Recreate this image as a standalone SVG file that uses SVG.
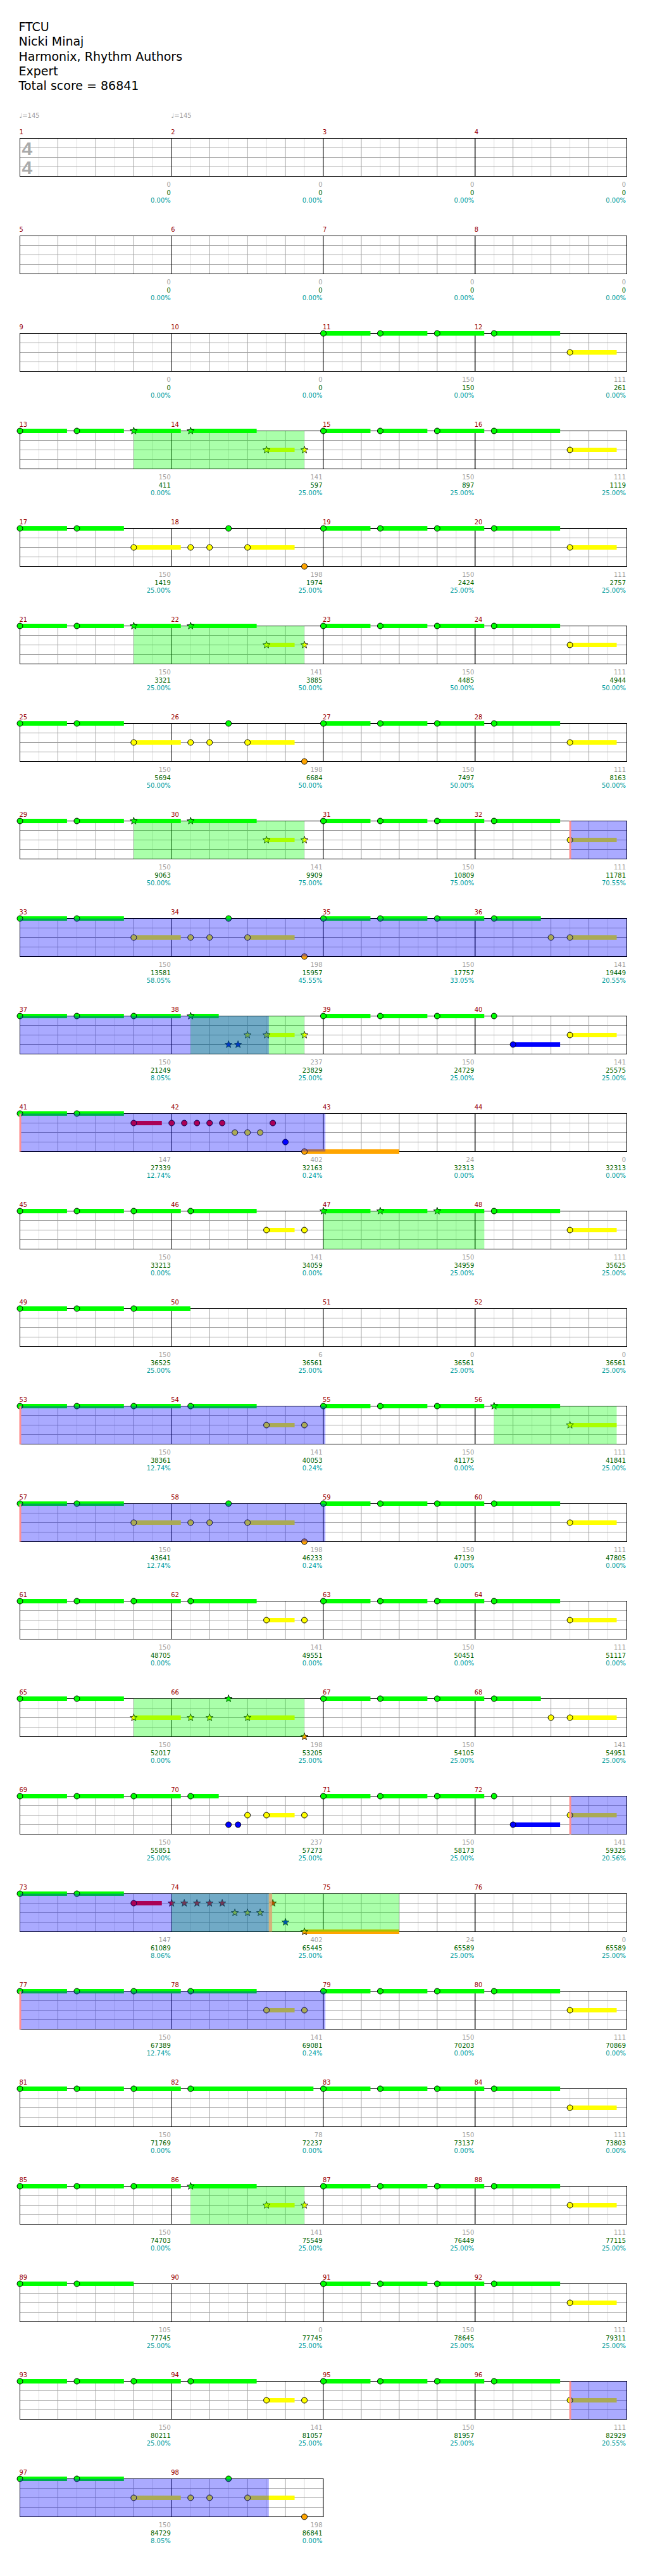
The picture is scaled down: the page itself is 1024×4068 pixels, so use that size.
<svg xmlns="http://www.w3.org/2000/svg" width="1024" height="4068" viewBox="0 0 1024 4068">
<style>
text{font-family:"DejaVu Sans","Liberation Sans",sans-serif}
.hd{font-size:19px;fill:#000}
.tp{font-size:10px;fill:#a0a0a0}
.ts{font-family:"Liberation Sans",sans-serif;font-weight:bold;font-size:30px;fill:#aaa}
.mn{font-size:10px;fill:#990000}
.s1,.s2,.s3{font-size:10px;text-anchor:end}
.s1{fill:#a0a0a0}.s2{fill:#006400}.s3{fill:#009c9c}
.lt{stroke:#dcdcdc;stroke-width:1;fill:none}
.bt{stroke:#a0a0a0;stroke-width:1;fill:none}
.ms{stroke:#000;stroke-width:1;fill:none}
.box{fill:none;stroke:#000;stroke-width:1}
.G{fill:#00ff00}.R{fill:#ff0000}.Y{fill:#ffff00}.B{fill:#0000ff}.O{fill:#ffa500}
.nt{stroke:#000;stroke-width:1}
.sn{stroke:#000;stroke-width:0.8}
.ovg{fill:#00ff00;fill-opacity:0.333}
.ovb{fill:#0000ff;fill-opacity:0.333}
.act{fill:#ff9090}
</style>
<defs>
<circle id="c" r="4.5"/>
<path id="st" d="M0,-6L1.47,-2.02L5.71,-1.85L2.38,0.77L3.53,4.85L0,2.5L-3.53,4.85L-2.38,0.77L-5.71,-1.85L-1.47,-2.02Z"/>
<g id="half">
<path class="lt" d="M30 0V60M90 0V60M150 0V60M210 0V60M270 0V60M330 0V60M390 0V60M450 0V60"/>
<path class="bt" d="M60 0V60M120 0V60M180 0V60M300 0V60M360 0V60M420 0V60M0 15H480M0 30H480M0 45H480"/>
<path class="ms" d="M240 0V60"/>
</g>
<g id="staff"><use href="#half"/><use href="#half" x="480"/><path class="ms" d="M480 0V60M720 0V60"/><rect class="box" width="960" height="60"/></g>
<g id="staff2"><use href="#half"/><rect class="box" width="480" height="60"/></g>
<g id="barsA">
<rect class="G" x="0" y="-3.5" width="74.5" height="7"/><rect class="G" x="90" y="-3.5" width="74.5" height="7"/><rect class="G" x="180" y="-3.5" width="74.5" height="7"/><rect class="G" x="270" y="-3.5" width="104.5" height="7"/><rect class="Y" x="390" y="26.5" width="74" height="7"/>
</g>
<g id="barsD">
<rect class="G" x="0" y="-3.5" width="74.5" height="7"/><rect class="G" x="90" y="-3.5" width="74.5" height="7"/><rect class="G" x="180" y="-3.5" width="74.5" height="7"/><rect class="G" x="270" y="-3.5" width="104.5" height="7"/><rect class="Y" x="390" y="26.5" width="44.5" height="7"/>
</g>
<g id="barsB">
<rect class="G" x="0" y="-3.5" width="74.5" height="7"/><rect class="G" x="90" y="-3.5" width="74.5" height="7"/><rect class="Y" x="180" y="26.5" width="74.5" height="7"/><rect class="Y" x="360" y="26.5" width="74.5" height="7"/>
</g>
<g id="barsE">
<rect class="G" x="0" y="-3.5" width="74.5" height="7"/><rect class="G" x="90" y="-3.5" width="74.5" height="7"/><rect class="G" x="180" y="-3.5" width="74.5" height="7"/><rect class="G" x="270" y="-3.5" width="44.5" height="7"/><rect class="Y" x="390" y="26.5" width="44.5" height="7"/>
</g>
<g id="barsG">
<rect class="G" x="0" y="-3.5" width="74.5" height="7"/><rect class="G" x="90" y="-3.5" width="74.5" height="7"/><rect class="R" x="180" y="11.5" width="44.5" height="7"/><rect class="O" x="450" y="56.5" width="150" height="7"/>
</g>
<g id="pA"><use href="#barsA"/>
<use href="#c" class="nt G" x="0" y="0"/><use href="#c" class="nt G" x="90" y="0"/><use href="#c" class="nt G" x="180" y="0"/><use href="#c" class="nt G" x="270" y="0"/><use href="#c" class="nt Y" x="390" y="30"/>
</g>
<g id="pA2">
<rect class="G" x="0" y="-3.5" width="74.5" height="7"/><rect class="G" x="90" y="-3.5" width="74.5" height="7"/><rect class="G" x="180" y="-3.5" width="74.5" height="7"/><rect class="G" x="270" y="-3.5" width="74" height="7"/><rect class="Y" x="390" y="26.5" width="74" height="7"/>
<use href="#c" class="nt G" x="0" y="0"/><use href="#c" class="nt G" x="90" y="0"/><use href="#c" class="nt G" x="180" y="0"/><use href="#c" class="nt G" x="270" y="0"/><use href="#c" class="nt Y" x="360" y="30"/><use href="#c" class="nt Y" x="390" y="30"/>
</g>
<g id="pB"><use href="#barsB"/>
<use href="#c" class="nt G" x="0" y="0"/><use href="#c" class="nt G" x="90" y="0"/><use href="#c" class="nt Y" x="180" y="30"/><use href="#c" class="nt Y" x="270" y="30"/><use href="#c" class="nt Y" x="300" y="30"/><use href="#c" class="nt G" x="330" y="0"/><use href="#c" class="nt Y" x="360" y="30"/><use href="#c" class="nt O" x="450" y="60"/>
</g>
<g id="pK"><use href="#barsB"/>
<use href="#c" class="nt G" x="0" y="0"/><use href="#c" class="nt G" x="90" y="0"/><use href="#st" class="sn Y" x="180" y="30"/><use href="#st" class="sn Y" x="270" y="30"/><use href="#st" class="sn Y" x="300" y="30"/><use href="#st" class="sn G" x="330" y="0"/><use href="#st" class="sn Y" x="360" y="30"/><use href="#st" class="sn O" x="450" y="60"/>
</g>
<g id="pD"><use href="#barsD"/>
<use href="#c" class="nt G" x="0" y="0"/><use href="#c" class="nt G" x="90" y="0"/><use href="#c" class="nt G" x="180" y="0"/><use href="#c" class="nt G" x="270" y="0"/><use href="#c" class="nt Y" x="390" y="30"/><use href="#c" class="nt Y" x="450" y="30"/>
</g>
<g id="pC"><use href="#barsD"/>
<use href="#c" class="nt G" x="0" y="0"/><use href="#c" class="nt G" x="90" y="0"/><use href="#st" class="sn G" x="180" y="0"/><use href="#st" class="sn G" x="270" y="0"/><use href="#st" class="sn Y" x="390" y="30"/><use href="#st" class="sn Y" x="450" y="30"/>
</g>
<g id="pM"><use href="#barsD"/>
<use href="#c" class="nt G" x="0" y="0"/><use href="#c" class="nt G" x="90" y="0"/><use href="#c" class="nt G" x="180" y="0"/><use href="#st" class="sn G" x="270" y="0"/><use href="#st" class="sn Y" x="390" y="30"/><use href="#st" class="sn Y" x="450" y="30"/>
</g>
<g id="pE"><use href="#barsE"/>
<use href="#c" class="nt G" x="0" y="0"/><use href="#c" class="nt G" x="90" y="0"/><use href="#c" class="nt G" x="180" y="0"/><use href="#st" class="sn G" x="270" y="0"/><use href="#st" class="sn B" x="330" y="45"/><use href="#st" class="sn B" x="345" y="45"/><use href="#st" class="sn Y" x="360" y="30"/><use href="#st" class="sn Y" x="390" y="30"/><use href="#st" class="sn Y" x="450" y="30"/>
</g>
<g id="pE2"><use href="#barsE"/>
<use href="#c" class="nt G" x="0" y="0"/><use href="#c" class="nt G" x="90" y="0"/><use href="#c" class="nt G" x="180" y="0"/><use href="#c" class="nt G" x="270" y="0"/><use href="#c" class="nt B" x="330" y="45"/><use href="#c" class="nt B" x="345" y="45"/><use href="#c" class="nt Y" x="360" y="30"/><use href="#c" class="nt Y" x="390" y="30"/><use href="#c" class="nt Y" x="450" y="30"/>
</g>
<g id="pF">
<rect class="G" x="0" y="-3.5" width="74.5" height="7"/><rect class="G" x="90" y="-3.5" width="74.5" height="7"/><rect class="G" x="180" y="-3.5" width="74.5" height="7"/><rect class="B" x="300" y="41.5" width="74.5" height="7"/><rect class="Y" x="390" y="26.5" width="74" height="7"/>
<use href="#c" class="nt G" x="0" y="0"/><use href="#c" class="nt G" x="90" y="0"/><use href="#c" class="nt G" x="180" y="0"/><use href="#c" class="nt G" x="270" y="0"/><use href="#c" class="nt B" x="300" y="45"/><use href="#c" class="nt Y" x="390" y="30"/>
</g>
<g id="pG"><use href="#barsG"/>
<use href="#c" class="nt G" x="0" y="0"/><use href="#c" class="nt G" x="90" y="0"/><use href="#c" class="nt R" x="180" y="15"/><use href="#c" class="nt R" x="240" y="15"/><use href="#c" class="nt R" x="260" y="15"/><use href="#c" class="nt R" x="280" y="15"/><use href="#c" class="nt R" x="300" y="15"/><use href="#c" class="nt R" x="320" y="15"/><use href="#c" class="nt Y" x="340" y="30"/><use href="#c" class="nt Y" x="360" y="30"/><use href="#c" class="nt Y" x="380" y="30"/><use href="#c" class="nt R" x="400" y="15"/><use href="#c" class="nt B" x="420" y="45"/><use href="#c" class="nt O" x="450" y="60"/>
</g>
<g id="pG2"><use href="#barsG"/>
<use href="#c" class="nt G" x="0" y="0"/><use href="#c" class="nt G" x="90" y="0"/><use href="#c" class="nt R" x="180" y="15"/><use href="#st" class="sn R" x="240" y="15"/><use href="#st" class="sn R" x="260" y="15"/><use href="#st" class="sn R" x="280" y="15"/><use href="#st" class="sn R" x="300" y="15"/><use href="#st" class="sn R" x="320" y="15"/><use href="#st" class="sn Y" x="340" y="30"/><use href="#st" class="sn Y" x="360" y="30"/><use href="#st" class="sn Y" x="380" y="30"/><use href="#st" class="sn R" x="400" y="15"/><use href="#st" class="sn B" x="420" y="45"/><use href="#st" class="sn O" x="450" y="60"/>
</g>
<g id="pH">
<rect class="G" x="0" y="-3.5" width="74.5" height="7"/><rect class="G" x="90" y="-3.5" width="74.5" height="7"/><rect class="G" x="180" y="-3.5" width="89.6" height="7"/>
<use href="#c" class="nt G" x="0" y="0"/><use href="#c" class="nt G" x="90" y="0"/><use href="#c" class="nt G" x="180" y="0"/>
</g>
<g id="pI"><use href="#barsA"/>
<use href="#c" class="nt G" x="0" y="0"/><use href="#c" class="nt G" x="90" y="0"/><use href="#c" class="nt G" x="180" y="0"/><use href="#st" class="sn G" x="270" y="0"/><use href="#st" class="sn Y" x="390" y="30"/>
</g>
<g id="pJ"><use href="#barsA"/>
<use href="#st" class="sn G" x="0" y="0"/><use href="#st" class="sn G" x="90" y="0"/><use href="#st" class="sn G" x="180" y="0"/><use href="#c" class="nt G" x="270" y="0"/><use href="#c" class="nt Y" x="390" y="30"/>
</g>
<g id="pL">
<rect class="G" x="0" y="-3.5" width="74.5" height="7"/><rect class="G" x="90" y="-3.5" width="74.5" height="7"/><rect class="G" x="180" y="-3.5" width="74.5" height="7"/><rect class="G" x="270" y="-3.5" width="194.3" height="7"/>
<use href="#c" class="nt G" x="0" y="0"/><use href="#c" class="nt G" x="90" y="0"/><use href="#c" class="nt G" x="180" y="0"/><use href="#c" class="nt G" x="270" y="0"/>
</g>
<g id="pN">
<rect class="G" x="0" y="-3.5" width="74.5" height="7"/><rect class="G" x="90" y="-3.5" width="90" height="7"/>
<use href="#c" class="nt G" x="0" y="0"/><use href="#c" class="nt G" x="90" y="0"/>
</g>
</defs>
<rect width="1024" height="4068" fill="#fff"/>
<g id="header">
<text class="hd" x="29.5" y="49">FTCU</text>
<text class="hd" x="29.5" y="72">Nicki Minaj</text>
<text class="hd" x="29.5" y="95.5">Harmonix, Rhythm Authors</text>
<text class="hd" x="29.5" y="118.5">Expert</text>
<text class="hd" x="29.5" y="141.7">Total score = 86841</text>
<text class="tp" x="30.5" y="185.5">♩=145</text>
<text class="tp" x="270.5" y="185.5">♩=145</text>
</g>

<g id="row1" transform="translate(31.5,218.5) scale(0.99896,1)">
<use href="#staff"/>
<text class="ts" x="3" y="26.5">4</text><text class="ts" x="3" y="56.5">4</text>
<text class="mn" x="-1" y="-7">1</text><text class="mn" x="239" y="-7">2</text><text class="mn" x="479" y="-7">3</text><text class="mn" x="719" y="-7">4</text>
<text class="s1" x="238.5" y="76.5">0</text><text class="s2" x="238.5" y="89.5">0</text><text class="s3" x="238.5" y="102">0.00%</text>
<text class="s1" x="478.5" y="76.5">0</text><text class="s2" x="478.5" y="89.5">0</text><text class="s3" x="478.5" y="102">0.00%</text>
<text class="s1" x="718.5" y="76.5">0</text><text class="s2" x="718.5" y="89.5">0</text><text class="s3" x="718.5" y="102">0.00%</text>
<text class="s1" x="958.5" y="76.5">0</text><text class="s2" x="958.5" y="89.5">0</text><text class="s3" x="958.5" y="102">0.00%</text>
</g>

<g id="row2" transform="translate(31.5,372.5) scale(0.99896,1)">
<use href="#staff"/>
<text class="mn" x="-1" y="-7">5</text><text class="mn" x="239" y="-7">6</text><text class="mn" x="479" y="-7">7</text><text class="mn" x="719" y="-7">8</text>
<text class="s1" x="238.5" y="76.5">0</text><text class="s2" x="238.5" y="89.5">0</text><text class="s3" x="238.5" y="102">0.00%</text>
<text class="s1" x="478.5" y="76.5">0</text><text class="s2" x="478.5" y="89.5">0</text><text class="s3" x="478.5" y="102">0.00%</text>
<text class="s1" x="718.5" y="76.5">0</text><text class="s2" x="718.5" y="89.5">0</text><text class="s3" x="718.5" y="102">0.00%</text>
<text class="s1" x="958.5" y="76.5">0</text><text class="s2" x="958.5" y="89.5">0</text><text class="s3" x="958.5" y="102">0.00%</text>
</g>

<g id="row3" transform="translate(31.5,526.5) scale(0.99896,1)">
<use href="#staff"/>
<use href="#pA" x="480"/>
<text class="mn" x="-1" y="-7">9</text><text class="mn" x="239" y="-7">10</text><text class="mn" x="479" y="-7">11</text><text class="mn" x="719" y="-7">12</text>
<text class="s1" x="238.5" y="76.5">0</text><text class="s2" x="238.5" y="89.5">0</text><text class="s3" x="238.5" y="102">0.00%</text>
<text class="s1" x="478.5" y="76.5">0</text><text class="s2" x="478.5" y="89.5">0</text><text class="s3" x="478.5" y="102">0.00%</text>
<text class="s1" x="718.5" y="76.5">150</text><text class="s2" x="718.5" y="89.5">150</text><text class="s3" x="718.5" y="102">0.00%</text>
<text class="s1" x="958.5" y="76.5">111</text><text class="s2" x="958.5" y="89.5">261</text><text class="s3" x="958.5" y="102">0.00%</text>
</g>

<g id="row4" transform="translate(31.5,680.5) scale(0.99896,1)">
<use href="#staff"/>
<use href="#pC"/><use href="#pA" x="480"/>
<rect class="ovg" x="180" y="0" width="270" height="60"/>
<text class="mn" x="-1" y="-7">13</text><text class="mn" x="239" y="-7">14</text><text class="mn" x="479" y="-7">15</text><text class="mn" x="719" y="-7">16</text>
<text class="s1" x="238.5" y="76.5">150</text><text class="s2" x="238.5" y="89.5">411</text><text class="s3" x="238.5" y="102">0.00%</text>
<text class="s1" x="478.5" y="76.5">141</text><text class="s2" x="478.5" y="89.5">597</text><text class="s3" x="478.5" y="102">25.00%</text>
<text class="s1" x="718.5" y="76.5">150</text><text class="s2" x="718.5" y="89.5">897</text><text class="s3" x="718.5" y="102">25.00%</text>
<text class="s1" x="958.5" y="76.5">111</text><text class="s2" x="958.5" y="89.5">1119</text><text class="s3" x="958.5" y="102">25.00%</text>
</g>

<g id="row5" transform="translate(31.5,834.5) scale(0.99896,1)">
<use href="#staff"/>
<use href="#pB"/><use href="#pA" x="480"/>
<text class="mn" x="-1" y="-7">17</text><text class="mn" x="239" y="-7">18</text><text class="mn" x="479" y="-7">19</text><text class="mn" x="719" y="-7">20</text>
<text class="s1" x="238.5" y="76.5">150</text><text class="s2" x="238.5" y="89.5">1419</text><text class="s3" x="238.5" y="102">25.00%</text>
<text class="s1" x="478.5" y="76.5">198</text><text class="s2" x="478.5" y="89.5">1974</text><text class="s3" x="478.5" y="102">25.00%</text>
<text class="s1" x="718.5" y="76.5">150</text><text class="s2" x="718.5" y="89.5">2424</text><text class="s3" x="718.5" y="102">25.00%</text>
<text class="s1" x="958.5" y="76.5">111</text><text class="s2" x="958.5" y="89.5">2757</text><text class="s3" x="958.5" y="102">25.00%</text>
</g>

<g id="row6" transform="translate(31.5,988.5) scale(0.99896,1)">
<use href="#staff"/>
<use href="#pC"/><use href="#pA" x="480"/>
<rect class="ovg" x="180" y="0" width="270" height="60"/>
<text class="mn" x="-1" y="-7">21</text><text class="mn" x="239" y="-7">22</text><text class="mn" x="479" y="-7">23</text><text class="mn" x="719" y="-7">24</text>
<text class="s1" x="238.5" y="76.5">150</text><text class="s2" x="238.5" y="89.5">3321</text><text class="s3" x="238.5" y="102">25.00%</text>
<text class="s1" x="478.5" y="76.5">141</text><text class="s2" x="478.5" y="89.5">3885</text><text class="s3" x="478.5" y="102">50.00%</text>
<text class="s1" x="718.5" y="76.5">150</text><text class="s2" x="718.5" y="89.5">4485</text><text class="s3" x="718.5" y="102">50.00%</text>
<text class="s1" x="958.5" y="76.5">111</text><text class="s2" x="958.5" y="89.5">4944</text><text class="s3" x="958.5" y="102">50.00%</text>
</g>

<g id="row7" transform="translate(31.5,1142.5) scale(0.99896,1)">
<use href="#staff"/>
<use href="#pB"/><use href="#pA" x="480"/>
<text class="mn" x="-1" y="-7">25</text><text class="mn" x="239" y="-7">26</text><text class="mn" x="479" y="-7">27</text><text class="mn" x="719" y="-7">28</text>
<text class="s1" x="238.5" y="76.5">150</text><text class="s2" x="238.5" y="89.5">5694</text><text class="s3" x="238.5" y="102">50.00%</text>
<text class="s1" x="478.5" y="76.5">198</text><text class="s2" x="478.5" y="89.5">6684</text><text class="s3" x="478.5" y="102">50.00%</text>
<text class="s1" x="718.5" y="76.5">150</text><text class="s2" x="718.5" y="89.5">7497</text><text class="s3" x="718.5" y="102">50.00%</text>
<text class="s1" x="958.5" y="76.5">111</text><text class="s2" x="958.5" y="89.5">8163</text><text class="s3" x="958.5" y="102">50.00%</text>
</g>

<g id="row8" transform="translate(31.5,1296.5) scale(0.99896,1)">
<use href="#staff"/>
<use href="#pC"/><use href="#pA" x="480"/>
<rect class="ovg" x="180" y="0" width="270" height="60"/>
<rect class="ovb" x="870" y="0" width="90" height="60"/>
<rect class="act" x="869" y="0" width="3" height="60"/>
<text class="mn" x="-1" y="-7">29</text><text class="mn" x="239" y="-7">30</text><text class="mn" x="479" y="-7">31</text><text class="mn" x="719" y="-7">32</text>
<text class="s1" x="238.5" y="76.5">150</text><text class="s2" x="238.5" y="89.5">9063</text><text class="s3" x="238.5" y="102">50.00%</text>
<text class="s1" x="478.5" y="76.5">141</text><text class="s2" x="478.5" y="89.5">9909</text><text class="s3" x="478.5" y="102">75.00%</text>
<text class="s1" x="718.5" y="76.5">150</text><text class="s2" x="718.5" y="89.5">10809</text><text class="s3" x="718.5" y="102">75.00%</text>
<text class="s1" x="958.5" y="76.5">111</text><text class="s2" x="958.5" y="89.5">11781</text><text class="s3" x="958.5" y="102">70.55%</text>
</g>

<g id="row9" transform="translate(31.5,1450.5) scale(0.99896,1)">
<use href="#staff"/>
<use href="#pB"/><use href="#pA2" x="480"/>
<rect class="ovb" x="0" y="0" width="960" height="60"/>
<text class="mn" x="-1" y="-7">33</text><text class="mn" x="239" y="-7">34</text><text class="mn" x="479" y="-7">35</text><text class="mn" x="719" y="-7">36</text>
<text class="s1" x="238.5" y="76.5">150</text><text class="s2" x="238.5" y="89.5">13581</text><text class="s3" x="238.5" y="102">58.05%</text>
<text class="s1" x="478.5" y="76.5">198</text><text class="s2" x="478.5" y="89.5">15957</text><text class="s3" x="478.5" y="102">45.55%</text>
<text class="s1" x="718.5" y="76.5">150</text><text class="s2" x="718.5" y="89.5">17757</text><text class="s3" x="718.5" y="102">33.05%</text>
<text class="s1" x="958.5" y="76.5">141</text><text class="s2" x="958.5" y="89.5">19449</text><text class="s3" x="958.5" y="102">20.55%</text>
</g>

<g id="row10" transform="translate(31.5,1604.5) scale(0.99896,1)">
<use href="#staff"/>
<use href="#pE"/><use href="#pF" x="480"/>
<rect class="ovg" x="270" y="0" width="180" height="60"/>
<rect class="ovb" x="0" y="0" width="393.7" height="60"/>
<text class="mn" x="-1" y="-7">37</text><text class="mn" x="239" y="-7">38</text><text class="mn" x="479" y="-7">39</text><text class="mn" x="719" y="-7">40</text>
<text class="s1" x="238.5" y="76.5">150</text><text class="s2" x="238.5" y="89.5">21249</text><text class="s3" x="238.5" y="102">8.05%</text>
<text class="s1" x="478.5" y="76.5">237</text><text class="s2" x="478.5" y="89.5">23829</text><text class="s3" x="478.5" y="102">25.00%</text>
<text class="s1" x="718.5" y="76.5">150</text><text class="s2" x="718.5" y="89.5">24729</text><text class="s3" x="718.5" y="102">25.00%</text>
<text class="s1" x="958.5" y="76.5">141</text><text class="s2" x="958.5" y="89.5">25575</text><text class="s3" x="958.5" y="102">25.00%</text>
</g>

<g id="row11" transform="translate(31.5,1758.5) scale(0.99896,1)">
<use href="#staff"/>
<use href="#pG"/>
<rect class="ovb" x="0" y="0" width="483.2" height="60"/>
<rect class="act" x="-1" y="0" width="3" height="60"/>
<text class="mn" x="-1" y="-7">41</text><text class="mn" x="239" y="-7">42</text><text class="mn" x="479" y="-7">43</text><text class="mn" x="719" y="-7">44</text>
<text class="s1" x="238.5" y="76.5">147</text><text class="s2" x="238.5" y="89.5">27339</text><text class="s3" x="238.5" y="102">12.74%</text>
<text class="s1" x="478.5" y="76.5">402</text><text class="s2" x="478.5" y="89.5">32163</text><text class="s3" x="478.5" y="102">0.24%</text>
<text class="s1" x="718.5" y="76.5">24</text><text class="s2" x="718.5" y="89.5">32313</text><text class="s3" x="718.5" y="102">0.00%</text>
<text class="s1" x="958.5" y="76.5">0</text><text class="s2" x="958.5" y="89.5">32313</text><text class="s3" x="958.5" y="102">0.00%</text>
</g>

<g id="row12" transform="translate(31.5,1912.5) scale(0.99896,1)">
<use href="#staff"/>
<use href="#pD"/><use href="#pJ" x="480"/>
<rect class="ovg" x="480" y="0" width="254.6" height="60"/>
<text class="mn" x="-1" y="-7">45</text><text class="mn" x="239" y="-7">46</text><text class="mn" x="479" y="-7">47</text><text class="mn" x="719" y="-7">48</text>
<text class="s1" x="238.5" y="76.5">150</text><text class="s2" x="238.5" y="89.5">33213</text><text class="s3" x="238.5" y="102">0.00%</text>
<text class="s1" x="478.5" y="76.5">141</text><text class="s2" x="478.5" y="89.5">34059</text><text class="s3" x="478.5" y="102">0.00%</text>
<text class="s1" x="718.5" y="76.5">150</text><text class="s2" x="718.5" y="89.5">34959</text><text class="s3" x="718.5" y="102">25.00%</text>
<text class="s1" x="958.5" y="76.5">111</text><text class="s2" x="958.5" y="89.5">35625</text><text class="s3" x="958.5" y="102">25.00%</text>
</g>

<g id="row13" transform="translate(31.5,2066.5) scale(0.99896,1)">
<use href="#staff"/>
<use href="#pH"/>
<text class="mn" x="-1" y="-7">49</text><text class="mn" x="239" y="-7">50</text><text class="mn" x="479" y="-7">51</text><text class="mn" x="719" y="-7">52</text>
<text class="s1" x="238.5" y="76.5">150</text><text class="s2" x="238.5" y="89.5">36525</text><text class="s3" x="238.5" y="102">25.00%</text>
<text class="s1" x="478.5" y="76.5">6</text><text class="s2" x="478.5" y="89.5">36561</text><text class="s3" x="478.5" y="102">25.00%</text>
<text class="s1" x="718.5" y="76.5">0</text><text class="s2" x="718.5" y="89.5">36561</text><text class="s3" x="718.5" y="102">25.00%</text>
<text class="s1" x="958.5" y="76.5">0</text><text class="s2" x="958.5" y="89.5">36561</text><text class="s3" x="958.5" y="102">25.00%</text>
</g>

<g id="row14" transform="translate(31.5,2220.5) scale(0.99896,1)">
<use href="#staff"/>
<use href="#pD"/><use href="#pI" x="480"/>
<rect class="ovg" x="750" y="0" width="194" height="60"/>
<rect class="ovb" x="0" y="0" width="483.2" height="60"/>
<rect class="act" x="-1" y="0" width="3" height="60"/>
<text class="mn" x="-1" y="-7">53</text><text class="mn" x="239" y="-7">54</text><text class="mn" x="479" y="-7">55</text><text class="mn" x="719" y="-7">56</text>
<text class="s1" x="238.5" y="76.5">150</text><text class="s2" x="238.5" y="89.5">38361</text><text class="s3" x="238.5" y="102">12.74%</text>
<text class="s1" x="478.5" y="76.5">141</text><text class="s2" x="478.5" y="89.5">40053</text><text class="s3" x="478.5" y="102">0.24%</text>
<text class="s1" x="718.5" y="76.5">150</text><text class="s2" x="718.5" y="89.5">41175</text><text class="s3" x="718.5" y="102">0.00%</text>
<text class="s1" x="958.5" y="76.5">111</text><text class="s2" x="958.5" y="89.5">41841</text><text class="s3" x="958.5" y="102">25.00%</text>
</g>

<g id="row15" transform="translate(31.5,2374.5) scale(0.99896,1)">
<use href="#staff"/>
<use href="#pB"/><use href="#pA" x="480"/>
<rect class="ovb" x="0" y="0" width="483.2" height="60"/>
<rect class="act" x="-1" y="0" width="3" height="60"/>
<text class="mn" x="-1" y="-7">57</text><text class="mn" x="239" y="-7">58</text><text class="mn" x="479" y="-7">59</text><text class="mn" x="719" y="-7">60</text>
<text class="s1" x="238.5" y="76.5">150</text><text class="s2" x="238.5" y="89.5">43641</text><text class="s3" x="238.5" y="102">12.74%</text>
<text class="s1" x="478.5" y="76.5">198</text><text class="s2" x="478.5" y="89.5">46233</text><text class="s3" x="478.5" y="102">0.24%</text>
<text class="s1" x="718.5" y="76.5">150</text><text class="s2" x="718.5" y="89.5">47139</text><text class="s3" x="718.5" y="102">0.00%</text>
<text class="s1" x="958.5" y="76.5">111</text><text class="s2" x="958.5" y="89.5">47805</text><text class="s3" x="958.5" y="102">0.00%</text>
</g>

<g id="row16" transform="translate(31.5,2528.5) scale(0.99896,1)">
<use href="#staff"/>
<use href="#pD"/><use href="#pA" x="480"/>
<text class="mn" x="-1" y="-7">61</text><text class="mn" x="239" y="-7">62</text><text class="mn" x="479" y="-7">63</text><text class="mn" x="719" y="-7">64</text>
<text class="s1" x="238.5" y="76.5">150</text><text class="s2" x="238.5" y="89.5">48705</text><text class="s3" x="238.5" y="102">0.00%</text>
<text class="s1" x="478.5" y="76.5">141</text><text class="s2" x="478.5" y="89.5">49551</text><text class="s3" x="478.5" y="102">0.00%</text>
<text class="s1" x="718.5" y="76.5">150</text><text class="s2" x="718.5" y="89.5">50451</text><text class="s3" x="718.5" y="102">0.00%</text>
<text class="s1" x="958.5" y="76.5">111</text><text class="s2" x="958.5" y="89.5">51117</text><text class="s3" x="958.5" y="102">0.00%</text>
</g>

<g id="row17" transform="translate(31.5,2682.5) scale(0.99896,1)">
<use href="#staff"/>
<use href="#pK"/><use href="#pA2" x="480"/>
<rect class="ovg" x="180" y="0" width="270" height="60"/>
<text class="mn" x="-1" y="-7">65</text><text class="mn" x="239" y="-7">66</text><text class="mn" x="479" y="-7">67</text><text class="mn" x="719" y="-7">68</text>
<text class="s1" x="238.5" y="76.5">150</text><text class="s2" x="238.5" y="89.5">52017</text><text class="s3" x="238.5" y="102">0.00%</text>
<text class="s1" x="478.5" y="76.5">198</text><text class="s2" x="478.5" y="89.5">53205</text><text class="s3" x="478.5" y="102">25.00%</text>
<text class="s1" x="718.5" y="76.5">150</text><text class="s2" x="718.5" y="89.5">54105</text><text class="s3" x="718.5" y="102">25.00%</text>
<text class="s1" x="958.5" y="76.5">141</text><text class="s2" x="958.5" y="89.5">54951</text><text class="s3" x="958.5" y="102">25.00%</text>
</g>

<g id="row18" transform="translate(31.5,2836.5) scale(0.99896,1)">
<use href="#staff"/>
<use href="#pE2"/><use href="#pF" x="480"/>
<rect class="ovb" x="870" y="0" width="90" height="60"/>
<rect class="act" x="869" y="0" width="3" height="60"/>
<text class="mn" x="-1" y="-7">69</text><text class="mn" x="239" y="-7">70</text><text class="mn" x="479" y="-7">71</text><text class="mn" x="719" y="-7">72</text>
<text class="s1" x="238.5" y="76.5">150</text><text class="s2" x="238.5" y="89.5">55851</text><text class="s3" x="238.5" y="102">25.00%</text>
<text class="s1" x="478.5" y="76.5">237</text><text class="s2" x="478.5" y="89.5">57273</text><text class="s3" x="478.5" y="102">25.00%</text>
<text class="s1" x="718.5" y="76.5">150</text><text class="s2" x="718.5" y="89.5">58173</text><text class="s3" x="718.5" y="102">25.00%</text>
<text class="s1" x="958.5" y="76.5">141</text><text class="s2" x="958.5" y="89.5">59325</text><text class="s3" x="958.5" y="102">20.56%</text>
</g>

<g id="row19" transform="translate(31.5,2990.5) scale(0.99896,1)">
<use href="#staff"/>
<use href="#pG2"/>
<rect class="ovg" x="240" y="0" width="360" height="60"/>
<rect class="ovb" x="0" y="0" width="393.7" height="60"/>
<rect fill="#e0a070" fill-opacity="0.8" x="393.7" y="0" width="5.3" height="60"/>
<text class="mn" x="-1" y="-7">73</text><text class="mn" x="239" y="-7">74</text><text class="mn" x="479" y="-7">75</text><text class="mn" x="719" y="-7">76</text>
<text class="s1" x="238.5" y="76.5">147</text><text class="s2" x="238.5" y="89.5">61089</text><text class="s3" x="238.5" y="102">8.06%</text>
<text class="s1" x="478.5" y="76.5">402</text><text class="s2" x="478.5" y="89.5">65445</text><text class="s3" x="478.5" y="102">25.00%</text>
<text class="s1" x="718.5" y="76.5">24</text><text class="s2" x="718.5" y="89.5">65589</text><text class="s3" x="718.5" y="102">25.00%</text>
<text class="s1" x="958.5" y="76.5">0</text><text class="s2" x="958.5" y="89.5">65589</text><text class="s3" x="958.5" y="102">25.00%</text>
</g>

<g id="row20" transform="translate(31.5,3144.5) scale(0.99896,1)">
<use href="#staff"/>
<use href="#pD"/><use href="#pA" x="480"/>
<rect class="ovb" x="0" y="0" width="483.2" height="60"/>
<rect class="act" x="-1" y="0" width="3" height="60"/>
<text class="mn" x="-1" y="-7">77</text><text class="mn" x="239" y="-7">78</text><text class="mn" x="479" y="-7">79</text><text class="mn" x="719" y="-7">80</text>
<text class="s1" x="238.5" y="76.5">150</text><text class="s2" x="238.5" y="89.5">67389</text><text class="s3" x="238.5" y="102">12.74%</text>
<text class="s1" x="478.5" y="76.5">141</text><text class="s2" x="478.5" y="89.5">69081</text><text class="s3" x="478.5" y="102">0.24%</text>
<text class="s1" x="718.5" y="76.5">150</text><text class="s2" x="718.5" y="89.5">70203</text><text class="s3" x="718.5" y="102">0.00%</text>
<text class="s1" x="958.5" y="76.5">111</text><text class="s2" x="958.5" y="89.5">70869</text><text class="s3" x="958.5" y="102">0.00%</text>
</g>

<g id="row21" transform="translate(31.5,3298.5) scale(0.99896,1)">
<use href="#staff"/>
<use href="#pL"/><use href="#pA" x="480"/>
<text class="mn" x="-1" y="-7">81</text><text class="mn" x="239" y="-7">82</text><text class="mn" x="479" y="-7">83</text><text class="mn" x="719" y="-7">84</text>
<text class="s1" x="238.5" y="76.5">150</text><text class="s2" x="238.5" y="89.5">71769</text><text class="s3" x="238.5" y="102">0.00%</text>
<text class="s1" x="478.5" y="76.5">78</text><text class="s2" x="478.5" y="89.5">72237</text><text class="s3" x="478.5" y="102">0.00%</text>
<text class="s1" x="718.5" y="76.5">150</text><text class="s2" x="718.5" y="89.5">73137</text><text class="s3" x="718.5" y="102">0.00%</text>
<text class="s1" x="958.5" y="76.5">111</text><text class="s2" x="958.5" y="89.5">73803</text><text class="s3" x="958.5" y="102">0.00%</text>
</g>

<g id="row22" transform="translate(31.5,3452.5) scale(0.99896,1)">
<use href="#staff"/>
<use href="#pM"/><use href="#pA" x="480"/>
<rect class="ovg" x="270" y="0" width="180" height="60"/>
<text class="mn" x="-1" y="-7">85</text><text class="mn" x="239" y="-7">86</text><text class="mn" x="479" y="-7">87</text><text class="mn" x="719" y="-7">88</text>
<text class="s1" x="238.5" y="76.5">150</text><text class="s2" x="238.5" y="89.5">74703</text><text class="s3" x="238.5" y="102">0.00%</text>
<text class="s1" x="478.5" y="76.5">141</text><text class="s2" x="478.5" y="89.5">75549</text><text class="s3" x="478.5" y="102">25.00%</text>
<text class="s1" x="718.5" y="76.5">150</text><text class="s2" x="718.5" y="89.5">76449</text><text class="s3" x="718.5" y="102">25.00%</text>
<text class="s1" x="958.5" y="76.5">111</text><text class="s2" x="958.5" y="89.5">77115</text><text class="s3" x="958.5" y="102">25.00%</text>
</g>

<g id="row23" transform="translate(31.5,3606.5) scale(0.99896,1)">
<use href="#staff"/>
<use href="#pN"/><use href="#pA" x="480"/>
<text class="mn" x="-1" y="-7">89</text><text class="mn" x="239" y="-7">90</text><text class="mn" x="479" y="-7">91</text><text class="mn" x="719" y="-7">92</text>
<text class="s1" x="238.5" y="76.5">105</text><text class="s2" x="238.5" y="89.5">77745</text><text class="s3" x="238.5" y="102">25.00%</text>
<text class="s1" x="478.5" y="76.5">0</text><text class="s2" x="478.5" y="89.5">77745</text><text class="s3" x="478.5" y="102">25.00%</text>
<text class="s1" x="718.5" y="76.5">150</text><text class="s2" x="718.5" y="89.5">78645</text><text class="s3" x="718.5" y="102">25.00%</text>
<text class="s1" x="958.5" y="76.5">111</text><text class="s2" x="958.5" y="89.5">79311</text><text class="s3" x="958.5" y="102">25.00%</text>
</g>

<g id="row24" transform="translate(31.5,3760.5) scale(0.99896,1)">
<use href="#staff"/>
<use href="#pD"/><use href="#pA" x="480"/>
<rect class="ovb" x="870" y="0" width="90" height="60"/>
<rect class="act" x="869" y="0" width="3" height="60"/>
<text class="mn" x="-1" y="-7">93</text><text class="mn" x="239" y="-7">94</text><text class="mn" x="479" y="-7">95</text><text class="mn" x="719" y="-7">96</text>
<text class="s1" x="238.5" y="76.5">150</text><text class="s2" x="238.5" y="89.5">80211</text><text class="s3" x="238.5" y="102">25.00%</text>
<text class="s1" x="478.5" y="76.5">141</text><text class="s2" x="478.5" y="89.5">81057</text><text class="s3" x="478.5" y="102">25.00%</text>
<text class="s1" x="718.5" y="76.5">150</text><text class="s2" x="718.5" y="89.5">81957</text><text class="s3" x="718.5" y="102">25.00%</text>
<text class="s1" x="958.5" y="76.5">111</text><text class="s2" x="958.5" y="89.5">82929</text><text class="s3" x="958.5" y="102">20.55%</text>
</g>

<g id="row25" transform="translate(31.5,3914.5) scale(0.99896,1)">
<use href="#staff2"/>
<use href="#pB"/>
<rect class="ovb" x="0" y="0" width="393.7" height="60"/>
<text class="mn" x="-1" y="-7">97</text><text class="mn" x="239" y="-7">98</text>
<text class="s1" x="238.5" y="76.5">150</text><text class="s2" x="238.5" y="89.5">84729</text><text class="s3" x="238.5" y="102">8.05%</text>
<text class="s1" x="478.5" y="76.5">198</text><text class="s2" x="478.5" y="89.5">86841</text><text class="s3" x="478.5" y="102">0.00%</text>
</g>
</svg>
